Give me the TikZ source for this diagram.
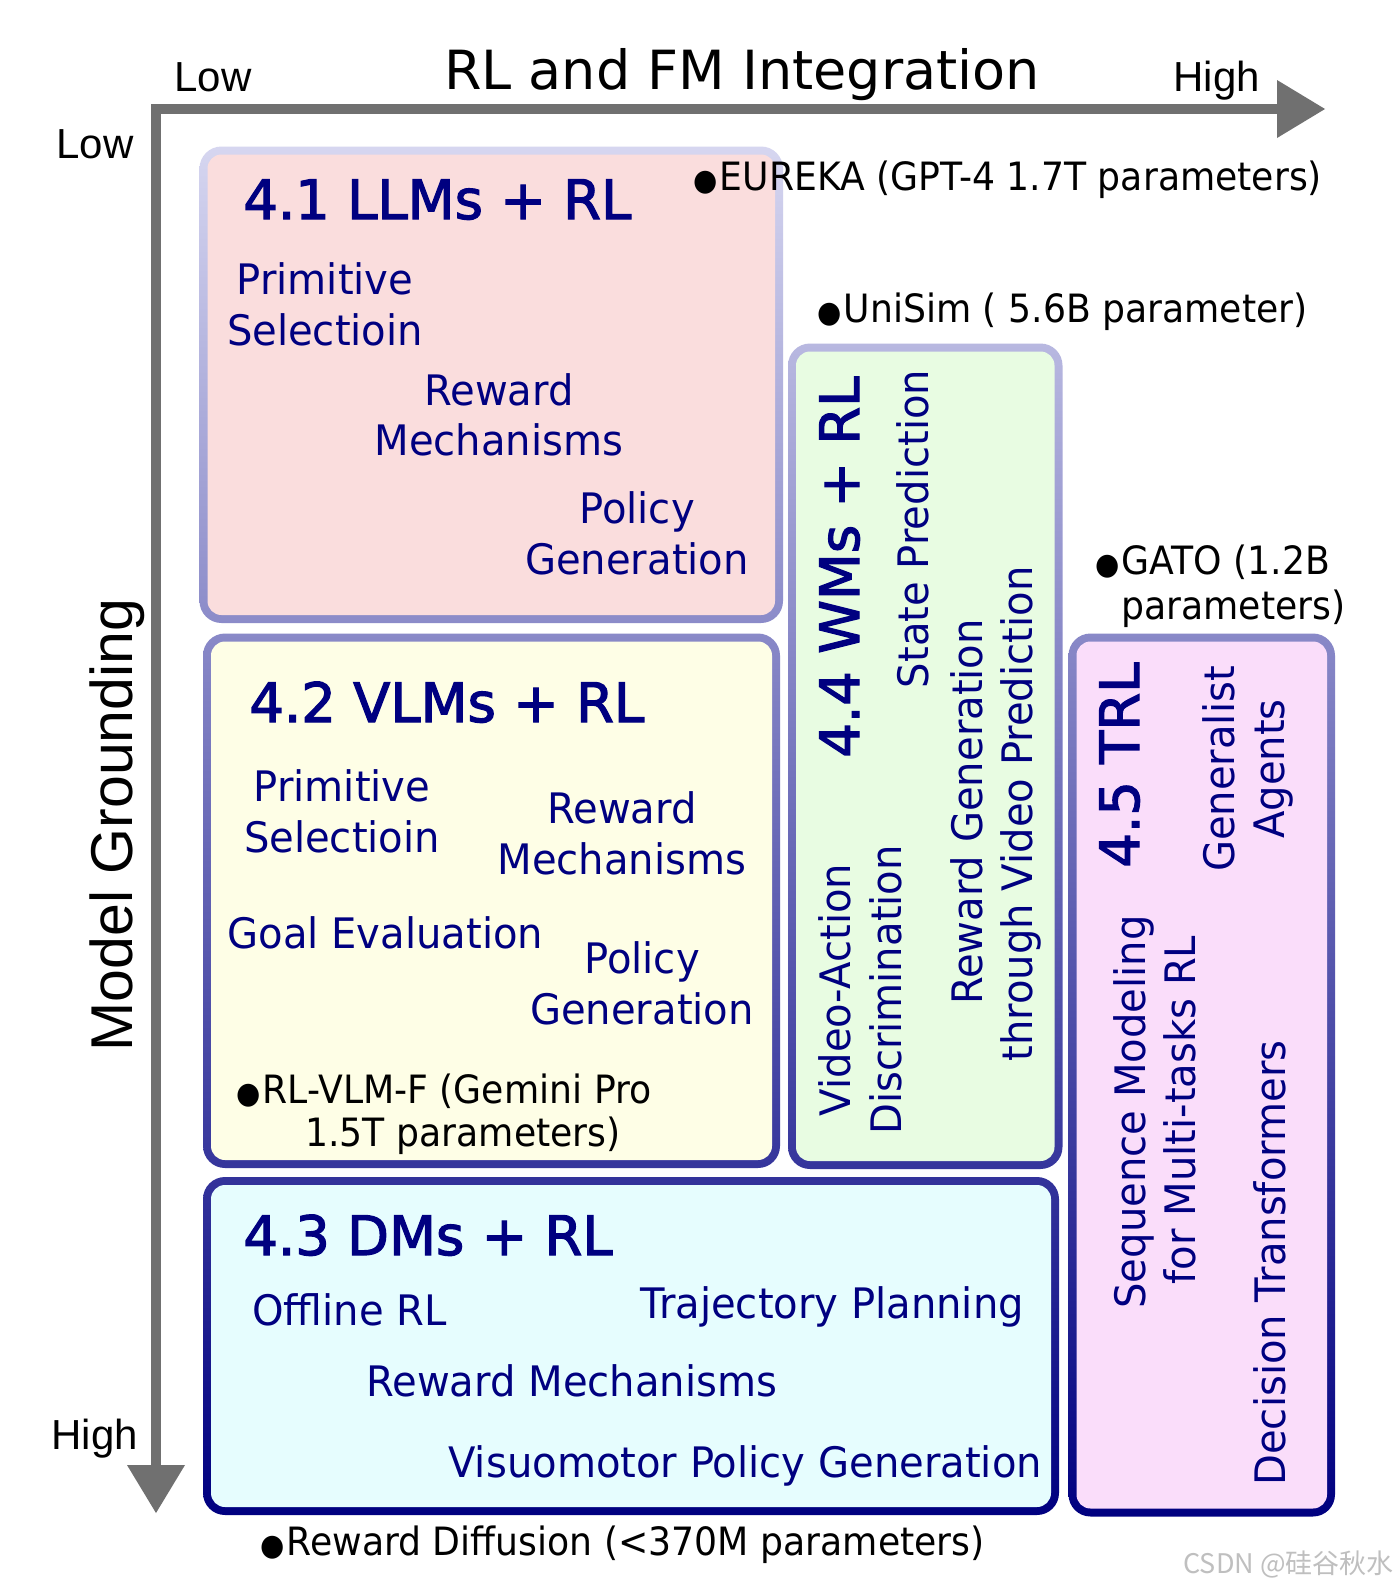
\documentclass[tikz,border=0pt]{standalone}
\usepackage{fontspec}
\setmainfont{DejaVu Sans}
\newfontfamily\vf[FakeStretch=0.955]{DejaVu Sans}
\newfontfamily\lf[FakeStretch=0.928]{DejaVu Sans}
\newfontfamily\hf[FakeBold=2.2]{DejaVu Sans}
\newfontfamily\tf{DejaVu Sans}
\newfontfamily\af{Liberation Sans}
\newfontfamily\cjk{Noto Sans CJK SC}
\definecolor{navyT}{RGB}{0,0,128}
\definecolor{navyB}{RGB}{0,0,128}
\definecolor{lightB}{RGB}{214,214,240}
\definecolor{axisc}{RGB}{112,112,112}
\definecolor{fillA}{RGB}{250,221,221}
\definecolor{fillB}{RGB}{254,254,230}
\definecolor{fillC}{RGB}{230,253,254}
\definecolor{fillD}{RGB}{232,252,226}
\definecolor{fillE}{RGB}{250,221,250}
\newcommand\gradbox[7]{%
  \shade[top color=navyB!#6!lightB, bottom color=navyB!#7!lightB, rounded corners=11pt]
    (#1-4,#2-4) rectangle (#3+4,#4+4);
  \fill[#5, rounded corners=7pt] (#1+4,#2+4) rectangle (#3-4,#4-4);}
\tikzset{
  txt/.style={font=\vf\fontsize{21pt}{25pt}\selectfont, text=navyT, inner sep=0pt},
  head/.style={font=\hf\fontsize{27.2pt}{32pt}\selectfont, text=navyT, inner sep=0pt},
  lab/.style={font=\lf\fontsize{19.5pt}{23pt}\selectfont, text=black, inner sep=0pt},
  axlab/.style={font=\af\fontsize{21pt}{25pt}\selectfont, text=black, inner sep=0pt},
  axline/.style={draw=axisc, line width=4.75pt, line join=miter}
}
\newcommand\bu{{\fontsize{15pt}{15pt}\selectfont ●}\hspace{1pt}}
\begin{document}
\begin{tikzpicture}[x=0.5pt,y=-0.5pt]
\useasboundingbox[fill=white] (0,0) rectangle (1394,1586);

% axes
\coordinate (corner) at (156,109);
\coordinate (hx) at (1277,109);
\coordinate (hy) at (156,1465);
\draw[axline] (hx) -- (corner) -- (hy);
\fill[axisc] (1277,80) -- (1325,109) -- (1277,138) -- cycle;
\fill[axisc] (127,1465) -- (156,1513) -- (185,1465) -- cycle;

\node[font=\tf\fontsize{27pt}{32pt}\selectfont, inner sep=0pt, anchor=base] (title) at (742,89) {RL and FM Integration};
\node[axlab, anchor=base west] (lowx) at (174,91) {Low};
\node[axlab, anchor=base west] (highx) at (1173,91) {High};
\node[axlab, anchor=base west] (lowy) at (56,158) {Low};
\node[axlab, anchor=base west] (highy) at (51,1449) {High};
\node[font=\af\fontsize{29.5pt}{34pt}\selectfont, inner sep=0pt, rotate=90, anchor=base] (mg) at (132,825) {Model Grounding};

% boxes
\gradbox{203.5}{150.5}{779}{619}{fillA}{0}{35}
\gradbox{207}{637.5}{776}{1164}{fillB}{36}{75}
\gradbox{207}{1181}{1055}{1511}{fillC}{76}{100}
\gradbox{792}{347.5}{1058.5}{1165}{fillD}{14}{75}
\gradbox{1072.5}{637.5}{1331}{1512.5}{fillE}{36}{100}

% 4.1
\node[head, anchor=base west] (h41) at (243,219) {4.1 LLMs + RL};
\node[txt, anchor=base] (a1) at (325,294) {Primitive};
\node[txt, anchor=base] (a2) at (325,345) {Selectioin};
\node[txt, anchor=base] (a3) at (499,405) {Reward};
\node[txt, anchor=base] (a4) at (499,455) {Mechanisms};
\node[txt, anchor=base] (a5) at (637,523) {Policy};
\node[txt, anchor=base] (a6) at (637,574) {Generation};

% 4.2
\node[head, anchor=base west] (h42) at (249,722) {4.2 VLMs + RL};
\node[txt, anchor=base] (b1) at (342,801) {Primitive};
\node[txt, anchor=base] (b2) at (342,852) {Selectioin};
\node[txt, anchor=base] (b3) at (622,823) {Reward};
\node[txt, anchor=base] (b4) at (622,874) {Mechanisms};
\node[txt, anchor=base west] (b5) at (227,948) {Goal Evaluation};
\node[txt, anchor=base] (b6) at (642,973) {Policy};
\node[txt, anchor=base] (b7) at (642,1024) {Generation};
\node[lab, anchor=base west] (b8) at (236,1103) {\bu RL-VLM-F (Gemini Pro};
\node[lab, anchor=base west] (b9) at (305,1146) {1.5T parameters)};

% 4.3
\node[head, anchor=base west] (h43) at (243,1255) {4.3 DMs + RL};
\node[txt, anchor=base west] (c1) at (252,1325) {Offline RL};
\node[txt, anchor=base west] (c2) at (640,1318) {Trajectory Planning};
\node[txt, anchor=base west] (c3) at (366,1396) {Reward Mechanisms};
\node[txt, anchor=base west] (c4) at (448,1477) {Visuomotor Policy Generation};

% 4.4
\node[head, rotate=90, anchor=base] (h44) at (859,567) {4.4 WMs + RL};
\node[txt, rotate=90, anchor=base] (d1) at (928,529) {State Prediction};
\node[txt, rotate=90, anchor=base] (d2) at (850,990) {Video-Action};
\node[txt, rotate=90, anchor=base] (d3) at (901,990) {Discrimination};
\node[txt, rotate=90, anchor=base] (d4) at (982,812) {Reward Generation};
\node[txt, rotate=90, anchor=base] (d5) at (1032,814) {through Video Prediction};

% 4.5
\node[head, rotate=90, anchor=base] (h45) at (1139,765) {4.5 TRL};
\node[txt, rotate=90, anchor=base] (e1) at (1234,769) {Generalist};
\node[txt, rotate=90, anchor=base] (e2) at (1284,769) {Agents};
\node[txt, rotate=90, anchor=base] (e3) at (1145,1112) {Sequence Modeling};
\node[txt, rotate=90, anchor=base] (e4) at (1195,1110) {for Multi-tasks RL};
\node[txt, rotate=90, anchor=base] (e5) at (1285,1263) {Decision Transformers};

% outside labels
\node[lab, anchor=base west] (l1) at (693,190) {\bu EUREKA (GPT-4 1.7T parameters)};
\node[lab, anchor=base west] (l2) at (817,322) {\bu UniSim ( 5.6B parameter)};
\node[lab, anchor=base west] (l3) at (1095,574) {\bu GATO (1.2B};
\node[lab, anchor=base west] (l4) at (1121,619) {parameters)};
\node[lab, anchor=base west] (l5) at (260,1555) {\bu Reward Diffusion (<370M parameters)};

\node[font=\cjk\fontsize{13.5pt}{16pt}\selectfont, text=black!25, inner sep=0pt, anchor=base west] (wm) at (1183,1573) {CSDN @硅谷秋水};
\end{tikzpicture}
\end{document}
